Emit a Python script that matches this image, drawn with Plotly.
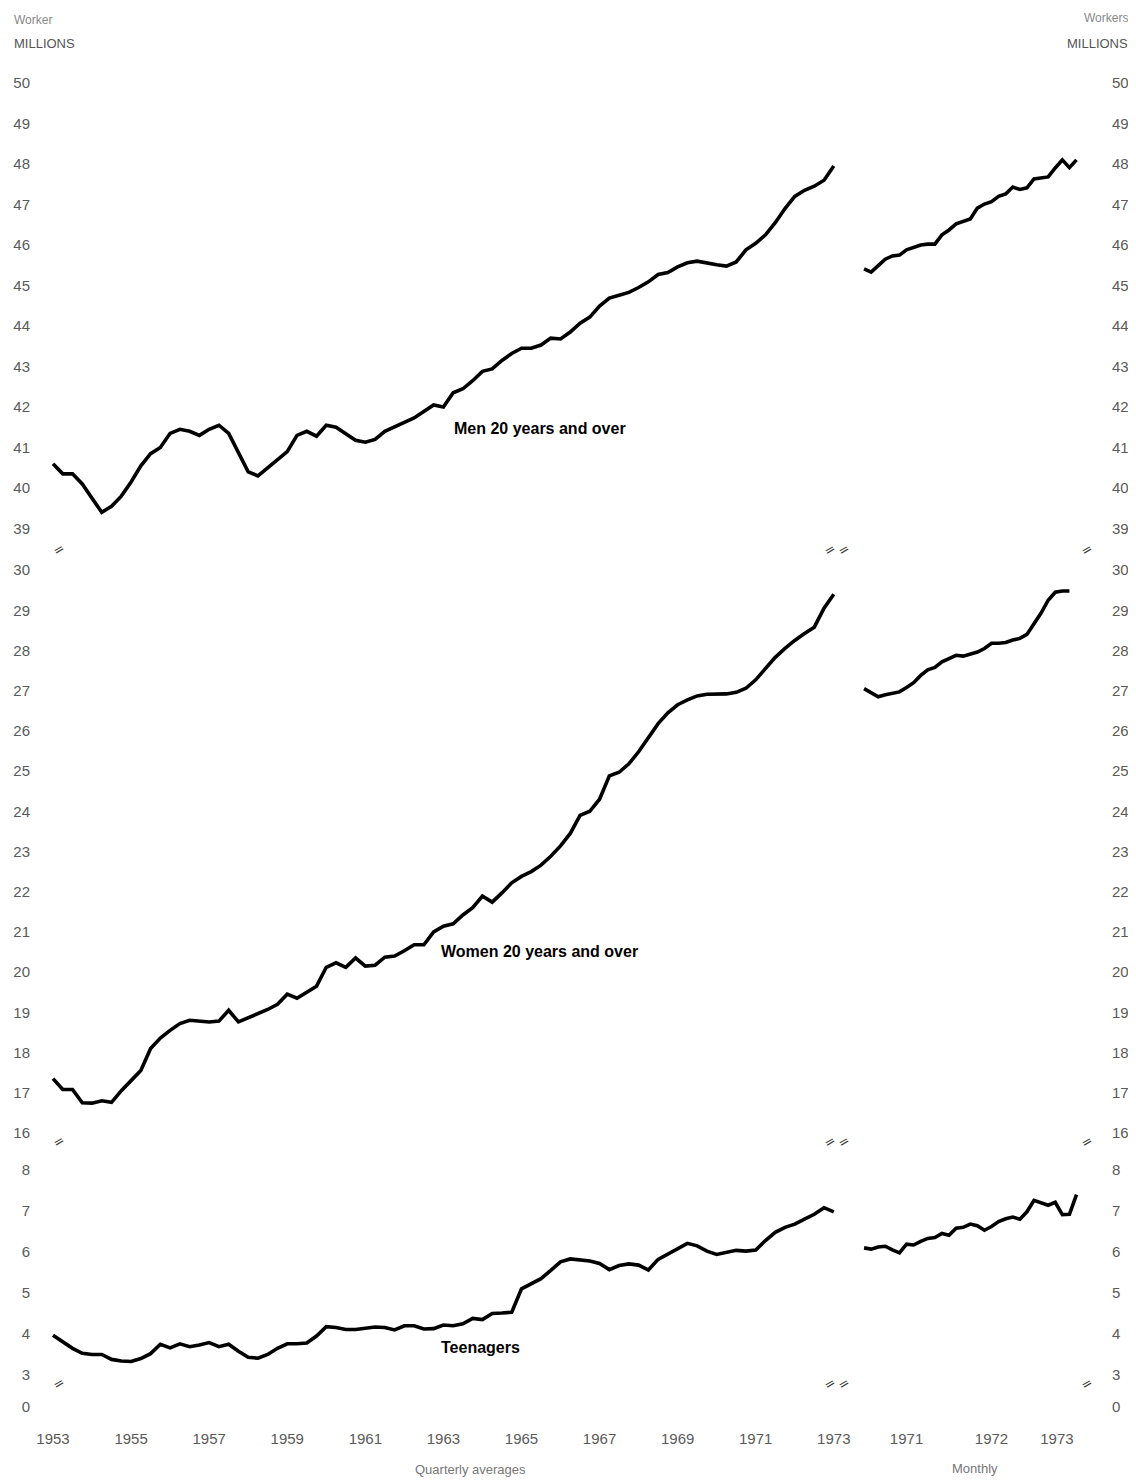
import plotly.graph_objects as go

# ---------------- data ----------------
q_start_year = 1953
men_quarterly = [40.6, 40.35, 40.35, 40.1, 39.75, 39.4, 39.55, 39.8, 40.15, 40.55,
                 40.85, 41.0, 41.35, 41.45, 41.4, 41.3, 41.45, 41.55, 41.35, 40.85,
                 40.4, 40.3, 40.5, 40.7, 40.9, 41.3, 41.4, 41.28, 41.55, 41.5,
                 41.35, 41.18, 41.13, 41.2, 41.4, 41.52, 41.62, 41.73, 41.88, 42.05,
                 42.0, 42.35, 42.45, 42.65, 42.88, 42.94, 43.15, 43.32, 43.45, 43.45,
                 43.53, 43.7, 43.68, 43.85, 44.07, 44.22, 44.49, 44.69, 44.76, 44.83,
                 44.95, 45.09, 45.27, 45.32, 45.46, 45.56, 45.6, 45.55, 45.51, 45.48,
                 45.58, 45.88, 46.04, 46.25, 46.55, 46.9, 47.2, 47.35, 47.45, 47.6,
                 47.95]
women_quarterly = [17.35, 17.08, 17.08, 16.75, 16.74, 16.8, 16.76, 17.05, 17.3, 17.55,
                   18.1, 18.36, 18.55, 18.72, 18.8, 18.78, 18.76, 18.78, 19.05, 18.76,
                   18.86, 18.98, 19.07, 19.2, 19.45, 19.35, 19.5, 19.65, 20.12, 20.23,
                   20.12, 20.35, 20.15, 20.17, 20.37, 20.4, 20.53, 20.68, 20.68, 21.0,
                   21.14, 21.2, 21.42, 21.6, 21.89, 21.74, 21.97, 22.22, 22.38, 22.5,
                   22.66, 22.88, 23.14, 23.45, 23.9, 24.0, 24.3, 24.88, 24.97, 25.18,
                   25.48, 25.83, 26.18, 26.45, 26.65, 26.77, 26.87, 26.91, 26.92, 26.92,
                   26.96, 27.06, 27.27, 27.55, 27.83, 28.05, 28.25, 28.42, 28.58, 29.05,
                   29.4]
teen_quarterly = [3.97, 3.82, 3.65, 3.53, 3.5, 3.5, 3.38, 3.34, 3.33, 3.4,
                  3.52, 3.75, 3.66, 3.76, 3.69, 3.73, 3.79, 3.69, 3.75, 3.58,
                  3.43, 3.41, 3.5, 3.65, 3.76, 3.76, 3.78, 3.95, 4.18, 4.16,
                  4.11, 4.11, 4.13, 4.17, 4.16, 4.1, 4.2, 4.2, 4.12, 4.13,
                  4.22, 4.2, 4.25, 4.38, 4.35, 4.5, 4.51, 4.53, 5.1, 5.23,
                  5.35, 5.55, 5.76, 5.83, 5.8, 5.78, 5.72, 5.57, 5.67, 5.71,
                  5.68, 5.56, 5.82, 5.95, 6.07, 6.21, 6.15, 6.02, 5.94, 6.0,
                  6.04, 6.02, 6.05, 6.28, 6.48, 6.6, 6.68, 6.8, 6.92, 7.08,
                  6.98]

m_start_year = 1971
men_monthly = [45.41, 45.33, 45.49, 45.65, 45.73, 45.75, 45.88, 45.94, 46.0, 46.02,
               46.02, 46.25, 46.37, 46.52, 46.58, 46.64, 46.91, 47.01, 47.07, 47.2,
               47.26, 47.43, 47.37, 47.41, 47.63, 47.65, 47.68, 47.9, 48.1, 47.91,
               48.1]
women_monthly = [27.05, 26.95, 26.85, 26.9, 26.93, 26.97, 27.08, 27.2, 27.38, 27.52,
                 27.58, 27.72, 27.8, 27.88, 27.86, 27.92, 27.96, 28.05, 28.18, 28.18,
                 28.2, 28.26, 28.3, 28.4, 28.65, 28.93, 29.25, 29.45, 29.48, 29.48]
teen_monthly = [6.10, 6.07, 6.12, 6.14, 6.05, 5.98, 6.19, 6.17, 6.26, 6.33,
                6.35, 6.45, 6.41, 6.58, 6.6, 6.68, 6.64, 6.53, 6.62, 6.74,
                6.81, 6.85, 6.8, 6.98, 7.26, 7.19, 7.14, 7.21, 6.91, 6.92,
                7.4]

quarterly_ticks = [1953, 1955, 1957, 1959, 1961, 1963, 1965, 1967, 1969, 1971, 1973]
monthly_tick_labels = ["1971", "1972", "1973"]
men_ticks = list(range(39, 51))
women_ticks = list(range(16, 31))
teen_tick_labels = ["0", "3", "4", "5", "6", "7", "8"]

# ---------------- build ----------------
def qx(n):
    return [q_start_year + i / 4 for i in range(n)]

def mx(n):
    return [m_start_year + i / 12 for i in range(n)]

LINE = dict(color="black", width=3.6)
fig = go.Figure()
series = [
    (qx(len(men_quarterly)), men_quarterly, "x", "y"),
    (mx(len(men_monthly)), men_monthly, "x2", "y2"),
    (qx(len(women_quarterly)), women_quarterly, "x3", "y3"),
    (mx(len(women_monthly)), women_monthly, "x4", "y4"),
    (qx(len(teen_quarterly)), teen_quarterly, "x5", "y5"),
    (mx(len(teen_monthly)), teen_monthly, "x6", "y6"),
]
for xs, ys, xa, ya in series:
    fig.add_trace(go.Scatter(x=xs, y=ys, mode="lines", line=LINE,
                             xaxis=xa, yaxis=ya, showlegend=False, hoverinfo="skip"))

TICKFONT = dict(family="Liberation Sans, Arial, sans-serif", size=15, color="#5a5a5a")
LEFT_DOM = [0.0, 0.7722]
RIGHT_DOM = [0.7819, 1.0]
Q_RANGE = [1952.795, 1973.287]
M_RANGE = [1970.894, 1973.553]
ROW_DOMS = [[0.6455, 0.9993], [0.1978, 0.6358], [0.0, 0.188]]
ROW_RANGES = [[38.593, 50.296], [15.70, 30.30], [2.146, 8.29]]
teen_tickvals = [2.22, 3, 4, 5, 6, 7, 8]
ROW_TICKS = [(men_ticks, [str(v) for v in men_ticks]),
             (women_ticks, [str(v) for v in women_ticks]),
             (teen_tickvals, teen_tick_labels)]

base_x = dict(showgrid=False, zeroline=False, showline=False, ticks="", fixedrange=True,
              automargin=False)
base_y = dict(showgrid=False, zeroline=False, showline=False, ticks="", fixedrange=True,
              tickfont=TICKFONT, tickmode="array", automargin=False)

layout = {}
for r in range(3):
    lx = "xaxis" if r == 0 else f"xaxis{2 * r + 1}"
    rx = f"xaxis{2 * r + 2}"
    ly = "yaxis" if r == 0 else f"yaxis{2 * r + 1}"
    ry = f"yaxis{2 * r + 2}"
    lyname = "y" if r == 0 else f"y{2 * r + 1}"
    ryname = f"y{2 * r + 2}"
    last = (r == 2)
    layout[lx] = dict(base_x, domain=LEFT_DOM, range=Q_RANGE, anchor=lyname,
                      showticklabels=last, tickmode="array", tickvals=quarterly_ticks,
                      ticktext=[str(v) for v in quarterly_ticks], tickfont=TICKFONT,
                      ticklabelstandoff=18)
    layout[rx] = dict(base_x, domain=RIGHT_DOM, range=M_RANGE, anchor=ryname,
                      showticklabels=last, tickmode="array",
                      tickvals=[1971.5, 1972.5, 1973.27], ticktext=monthly_tick_labels,
                      tickfont=TICKFONT, ticklabelstandoff=18)
    tv, tt = ROW_TICKS[r]
    layout[ly] = dict(base_y, domain=ROW_DOMS[r], range=ROW_RANGES[r],
                      anchor=lx.replace("axis", ""), side="left",
                      tickvals=tv, ticktext=tt, ticklabelstandoff=14)
    layout[ry] = dict(base_y, domain=ROW_DOMS[r], range=ROW_RANGES[r],
                      anchor=rx.replace("axis", ""), side="right",
                      tickvals=tv, ticktext=tt, ticklabelstandoff=30)

fig.update_layout(**layout)

# ---------------- text ----------------
# reference pixel -> paper coords (plot area spans ref px 45..1081 x 70..1410)
def px_to_paper(px, py):
    return (px - 45) / 1036, (1410 - py) / 1340

def add_text(text, px, py, size, color, xanchor="left"):
    x, y = px_to_paper(px, py)
    fig.add_annotation(text=text, x=x, y=y, xref="paper", yref="paper",
                       xanchor=xanchor, yanchor="middle", showarrow=False,
                       font=dict(size=size, color=color,
                                 family="Liberation Sans, Arial, sans-serif"))

add_text("Worker", 12, 20, 12, "#888")
add_text("MILLIONS", 12, 44, 13, "#555")
add_text("Workers", 1130, 18, 12, "#888", xanchor="right")
add_text("MILLIONS", 1130, 44, 13, "#555", xanchor="right")
add_text("Quarterly averages", 470, 1470, 13, "#777", xanchor="center")
add_text("Monthly", 975, 1468, 13, "#777", xanchor="center")

NARROW = "Liberation Sans Narrow, Arial Narrow, Liberation Sans, sans-serif"
labels = [("Men 20 years and over", 1965.47, 41.48, "x", "y"),
          ("Women 20 years and over", 1965.47, 20.5, "x3", "y3"),
          ("Teenagers", 1963.96, 3.66, "x5", "y5")]
for text, xv, yv, xa, ya in labels:
    fig.add_annotation(text=f"<b>{text}</b>", x=xv, y=yv, xref=xa, yref=ya,
                       showarrow=False, xanchor="center", yanchor="middle",
                       font=dict(size=16, color="black", family=NARROW))

# axis break marks
breaks = [(47, 549), (47, 1153), (47, 1395),
          (841, 549), (855, 549), (841, 1153), (855, 1153), (841, 1395), (855, 1395),
          (1098, 549), (1098, 1153), (1098, 1395)]
for bx, by in breaks:
    x, y = px_to_paper(bx, by)
    fig.add_annotation(text="=", x=x, y=y, xref="paper", yref="paper", showarrow=False,
                       textangle=-30, font=dict(size=13, color="#333",
                                                family="DejaVu Sans, sans-serif"))

# page has an 8px body margin, so the figure is 8px smaller than the window
fig.update_layout(width=1128, height=1472, paper_bgcolor="white", plot_bgcolor="white",
                  margin=dict(l=37, r=55, t=62, b=70, autoexpand=False), showlegend=False)

fig.write_html("out.html")
